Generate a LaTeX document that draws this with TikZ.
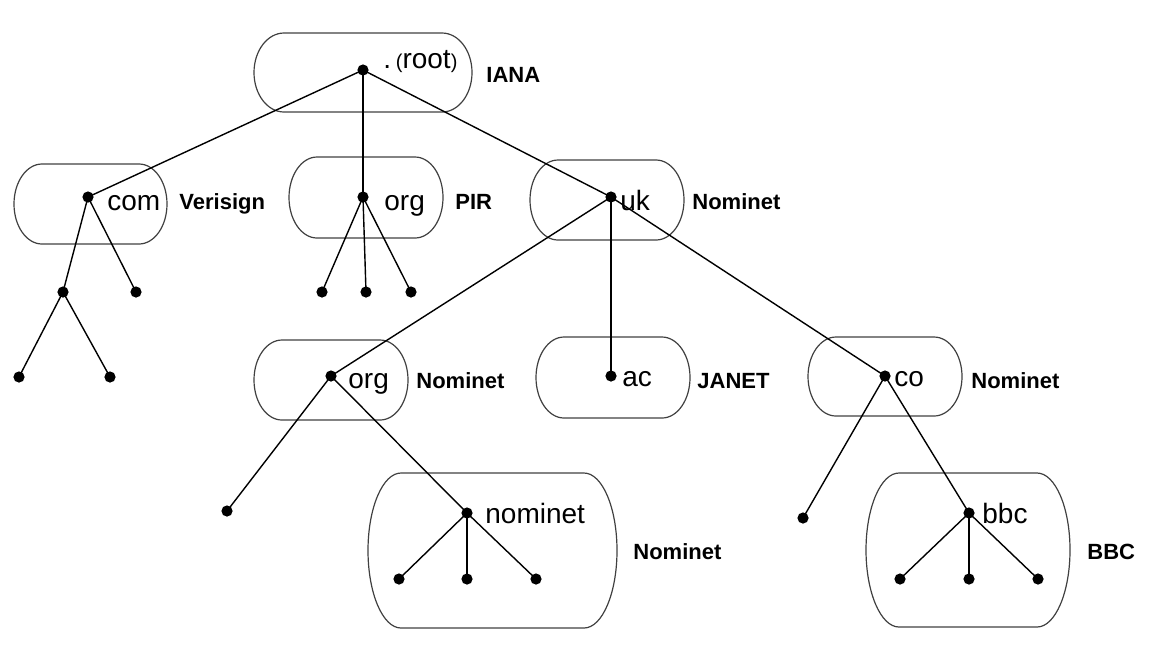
\documentclass[tikz,border=0pt]{standalone}
\usepackage{fontspec}
\setmainfont{Liberation Sans}
\newcommand\dnsbox[5]{%
 \pgfmathsetmacro\cA{#1+#5}\pgfmathsetmacro\cB{#3-#5}%
 \pgfmathsetmacro\cM{(#2+#4)/2}%
 \pgfmathsetmacro\cK{0.5523*#5}\pgfmathsetmacro\cL{0.5523*(#4-#2)/2}%
 \draw[box] (\cA,#2) -- (\cB,#2) .. controls ({\cB+\cK},#2) and (#3,{\cM-\cL}) .. (#3,\cM)
   .. controls (#3,{\cM+\cL}) and ({\cB+\cK},#4) .. (\cB,#4) -- (\cA,#4)
   .. controls ({\cA-\cK},#4) and (#1,{\cM+\cL}) .. (#1,\cM)
   .. controls (#1,{\cM-\cL}) and ({\cA-\cK},#2) .. (\cA,#2) -- cycle;}
\begin{document}
\begin{tikzpicture}[x=0.5pt,y=-0.5pt,
  dot/.style={circle, fill=black, inner sep=0pt, minimum size=5.6pt},
  lbl/.style={font=\fontsize{11}{13}\selectfont\bfseries, anchor=base west, inner sep=0pt},
  nm/.style={font=\fontsize{14}{16}\selectfont, anchor=base west, inner sep=0pt},
  edge/.style={line width=0.7pt},
  box/.style={line width=0.6pt, draw=black!75}]
\useasboundingbox (0,0) rectangle (1160,666);
% boxes
\dnsbox{254}{33}{472}{112}{30}
\dnsbox{14}{164}{167}{244}{28}
\dnsbox{289}{157}{443}{238}{28}
\dnsbox{530}{160}{684}{240}{28}
\dnsbox{254}{340}{408}{420}{28}
\dnsbox{536}{337}{690}{418}{28}
\dnsbox{808}{337}{962}{416}{28}
\dnsbox{368}{473}{617}{628}{33}
\dnsbox{866}{473}{1070}{627}{33}
% dots
\node[dot] (root) at (363,70) {};
\node[dot] (com) at (88,197) {};
\node[dot] (c1) at (63,292) {};
\node[dot] (c2) at (136,292) {};
\node[dot] (c11) at (19,377) {};
\node[dot] (c12) at (110,377) {};
\node[dot] (org) at (363,197) {};
\node[dot] (o1) at (322,292) {};
\node[dot] (o2) at (366,292) {};
\node[dot] (o3) at (411,292) {};
\node[dot] (uk) at (611,197) {};
\node[dot] (org2) at (331,376) {};
\node[dot] (ac) at (611,376) {};
\node[dot] (co) at (885,376) {};
\node[dot] (g1) at (227,511) {};
\node[dot] (nom) at (467,513) {};
\node[dot] (n1) at (399,579) {};
\node[dot] (n2) at (467,579) {};
\node[dot] (n3) at (536,579) {};
\node[dot] (k1) at (803,518) {};
\node[dot] (bbc) at (969,513) {};
\node[dot] (b1) at (900,579) {};
\node[dot] (b2) at (969,579) {};
\node[dot] (b3) at (1038,579) {};
% edges
\draw[edge] (root.center) -- (com.center);
\draw[edge] (root.center) -- (org.center);
\draw[edge] (root.center) -- (uk.center);
\draw[edge] (com.center) -- (c1.center);
\draw[edge] (com.center) -- (c2.center);
\draw[edge] (c1.center) -- (c11.center);
\draw[edge] (c1.center) -- (c12.center);
\draw[edge] (org.center) -- (o1.center);
\draw[edge] (org.center) -- (o2.center);
\draw[edge] (org.center) -- (o3.center);
\draw[edge] (uk.center) -- (org2.center);
\draw[edge] (uk.center) -- (ac.center);
\draw[edge] (uk.center) -- (co.center);
\draw[edge] (org2.center) -- (g1.center);
\draw[edge] (org2.center) -- (nom.center);
\draw[edge] (nom.center) -- (n1.center);
\draw[edge] (nom.center) -- (n2.center);
\draw[edge] (nom.center) -- (n3.center);
\draw[edge] (co.center) -- (k1.center);
\draw[edge] (co.center) -- (bbc.center);
\draw[edge] (bbc.center) -- (b1.center);
\draw[edge] (bbc.center) -- (b2.center);
\draw[edge] (bbc.center) -- (b3.center);
% names
\node[nm] (troot) at (383,68) {.\,{\fontsize{10}{12}\selectfont(}root{\fontsize{10}{12}\selectfont)}};
\node[nm] (tcom) at (107,210) {com};
\node[nm] (torg) at (384,210) {org};
\node[nm] (tuk) at (620,210) {uk};
\node[nm] (torg2) at (348,388) {org};
\node[nm] (tac) at (622,386) {ac};
\node[nm] (tco) at (894,386) {co};
\node[nm] (tnom) at (485,523) {nominet};
\node[nm] (tbbc) at (982,523) {bbc};
% operators
\node[lbl] (lIANA) at (486,82) {IANA};
\node[lbl] (lVer) at (179,209) {Verisign};
\node[lbl] (lPIR) at (455,209) {PIR};
\node[lbl] (lNom1) at (692,209) {Nominet};
\node[lbl] (lNom2) at (416,388) {Nominet};
\node[lbl] (lJANET) at (697,388) {JANET};
\node[lbl] (lNom3) at (971,388) {Nominet};
\node[lbl] (lNom4) at (633,559) {Nominet};
\node[lbl] (lBBC) at (1087,559) {BBC};
\end{tikzpicture}
\end{document}
